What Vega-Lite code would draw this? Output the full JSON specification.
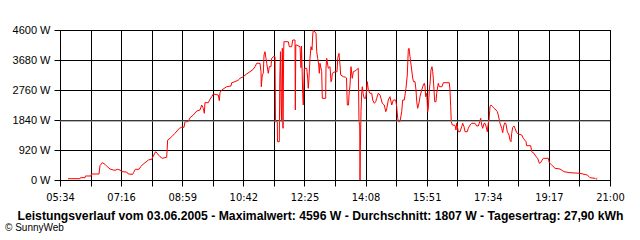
{
  "$schema": "https://vega.github.io/schema/vega-lite/v6.json",
  "width": 550,
  "height": 150,
  "autosize": "none",
  "padding": {"left": 60, "top": 30, "right": 30, "bottom": 60},
  "background": "white",
  "title": {
    "text": "© SunnyWeb",
    "orient": "bottom",
    "anchor": "start",
    "frame": "group",
    "dx": -55,
    "offset": 2,
    "font": "Liberation Sans",
    "fontSize": 10,
    "fontWeight": "normal",
    "color": "black"
  },
  "config": {
    "view": {"stroke": "black", "strokeWidth": 1},
    "axis": {
      "gridColor": "black",
      "gridOpacity": 1,
      "gridWidth": 1,
      "domainColor": "black",
      "tickColor": "black",
      "tickSize": 6,
      "labelColor": "black",
      "labelFont": "Liberation Sans",
      "labelFontSize": 11,
      "labelFlush": false,
      "labelOverlap": false,
      "labelBound": false
    }
  },
  "layer": [
    {
      "data": {
        "values": [
          {"minute": 347.5, "watt": 40}, {"minute": 367.7, "watt": 40}, {"minute": 368.5, "watt": 71}, {"minute": 376.1, "watt": 71},
          {"minute": 376.9, "watt": 123}, {"minute": 386.2, "watt": 123}, {"minute": 387.0, "watt": 184}, {"minute": 399.7, "watt": 184},
          {"minute": 401.3, "watt": 439}, {"minute": 405.2, "watt": 531}, {"minute": 409.8, "watt": 481}, {"minute": 413.6, "watt": 408},
          {"minute": 418.2, "watt": 337}, {"minute": 423.7, "watt": 307}, {"minute": 426.6, "watt": 297}, {"minute": 430.5, "watt": 328},
          {"minute": 435.0, "watt": 307}, {"minute": 438.4, "watt": 255}, {"minute": 446.3, "watt": 245}, {"minute": 449.0, "watt": 184},
          {"minute": 456.4, "watt": 175}, {"minute": 457.7, "watt": 224}, {"minute": 460.8, "watt": 328}, {"minute": 467.0, "watt": 328},
          {"minute": 469.9, "watt": 408}, {"minute": 474.2, "watt": 491}, {"minute": 478.8, "watt": 552}, {"minute": 482.7, "watt": 613},
          {"minute": 488.4, "watt": 635}, {"minute": 491.1, "watt": 736}, {"minute": 495.1, "watt": 868}, {"minute": 497.8, "watt": 819},
          {"minute": 499.8, "watt": 767}, {"minute": 502.4, "watt": 715}, {"minute": 506.2, "watt": 665}, {"minute": 513.6, "watt": 696},
          {"minute": 515.3, "watt": 1227}, {"minute": 519.2, "watt": 1279}, {"minute": 522.1, "watt": 1328}, {"minute": 527.6, "watt": 1432},
          {"minute": 534.9, "watt": 1585}, {"minute": 538.9, "watt": 1616}, {"minute": 542.8, "watt": 1616}, {"minute": 544.5, "watt": 1788},
          {"minute": 550.0, "watt": 1788}, {"minute": 552.9, "watt": 1911}, {"minute": 558.4, "watt": 1993}, {"minute": 564.2, "watt": 2116},
          {"minute": 569.7, "watt": 2147}, {"minute": 572.6, "watt": 2300}, {"minute": 575.3, "watt": 2199}, {"minute": 577.0, "watt": 2045},
          {"minute": 578.1, "watt": 2371}, {"minute": 583.7, "watt": 2371}, {"minute": 586.5, "watt": 2475}, {"minute": 589.4, "watt": 2555},
          {"minute": 592.1, "watt": 2637}, {"minute": 600.5, "watt": 2607}, {"minute": 602.2, "watt": 2432}, {"minute": 603.4, "watt": 2677},
          {"minute": 606.2, "watt": 2760}, {"minute": 614.7, "watt": 2861}, {"minute": 621.9, "watt": 2883}, {"minute": 623.1, "watt": 2984},
          {"minute": 628.6, "watt": 3015}, {"minute": 634.2, "watt": 3067}, {"minute": 637.1, "watt": 3119}, {"minute": 642.6, "watt": 3168},
          {"minute": 648.3, "watt": 3251}, {"minute": 653.9, "watt": 3321}, {"minute": 659.4, "watt": 3395}, {"minute": 662.3, "watt": 3475},
          {"minute": 665.2, "watt": 3579}, {"minute": 670.7, "watt": 3579}, {"minute": 672.4, "watt": 3321}, {"minute": 672.9, "watt": 2861},
          {"minute": 674.6, "watt": 3220}, {"minute": 676.3, "watt": 3272}, {"minute": 677.5, "watt": 3833}, {"minute": 679.1, "watt": 3935},
          {"minute": 680.8, "watt": 3732}, {"minute": 682.0, "watt": 3579}, {"minute": 684.7, "watt": 3272}, {"minute": 686.4, "watt": 3475},
          {"minute": 689.2, "watt": 3475}, {"minute": 690.4, "watt": 3732}, {"minute": 693.1, "watt": 3781}, {"minute": 696.0, "watt": 3781},
          {"minute": 696.8, "watt": 1788}, {"minute": 699.9, "watt": 1788}, {"minute": 700.2, "watt": 1175}, {"minute": 703.2, "watt": 1175},
          {"minute": 704.1, "watt": 3128}, {"minute": 705.2, "watt": 3935}, {"minute": 706.1, "watt": 2453}, {"minute": 706.9, "watt": 1788},
          {"minute": 708.3, "watt": 4039}, {"minute": 709.5, "watt": 1585}, {"minute": 710.6, "watt": 3987}, {"minute": 711.1, "watt": 4241},
          {"minute": 718.4, "watt": 4241}, {"minute": 720.1, "watt": 4088}, {"minute": 724.1, "watt": 4088}, {"minute": 725.8, "watt": 4293},
          {"minute": 729.7, "watt": 4293}, {"minute": 730.2, "watt": 2147}, {"minute": 731.0, "watt": 4140}, {"minute": 732.5, "watt": 4140},
          {"minute": 738.1, "watt": 4088}, {"minute": 739.8, "watt": 3444}, {"minute": 740.6, "watt": 4109}, {"minute": 742.6, "watt": 2659},
          {"minute": 743.6, "watt": 2300}, {"minute": 745.3, "watt": 3425}, {"minute": 749.4, "watt": 3425}, {"minute": 751.0, "watt": 3119},
          {"minute": 752.0, "watt": 2812}, {"minute": 753.2, "watt": 3128}, {"minute": 754.9, "watt": 3732}, {"minute": 756.6, "watt": 4088},
          {"minute": 758.3, "watt": 3987}, {"minute": 759.5, "watt": 4447}, {"minute": 760.5, "watt": 4596}, {"minute": 765.0, "watt": 4499},
          {"minute": 766.2, "watt": 3935}, {"minute": 767.9, "watt": 3732}, {"minute": 769.6, "watt": 3527}, {"minute": 770.6, "watt": 3272},
          {"minute": 771.7, "watt": 3579}, {"minute": 774.6, "watt": 3321}, {"minute": 775.6, "watt": 2505}, {"minute": 781.3, "watt": 2505},
          {"minute": 781.8, "watt": 3425}, {"minute": 783.0, "watt": 3732}, {"minute": 785.7, "watt": 3425}, {"minute": 788.6, "watt": 3475},
          {"minute": 790.3, "watt": 3015}, {"minute": 791.4, "watt": 3067}, {"minute": 792.5, "watt": 3272}, {"minute": 797.0, "watt": 3321},
          {"minute": 800.4, "watt": 3321}, {"minute": 801.5, "watt": 3732}, {"minute": 803.7, "watt": 3885}, {"minute": 805.4, "watt": 3527},
          {"minute": 806.6, "watt": 3220}, {"minute": 811.0, "watt": 3168}, {"minute": 815.0, "watt": 3149}, {"minute": 816.4, "watt": 3128},
          {"minute": 817.7, "watt": 2300}, {"minute": 819.7, "watt": 2300}, {"minute": 820.6, "watt": 2607}, {"minute": 822.3, "watt": 2913},
          {"minute": 823.9, "watt": 3475}, {"minute": 826.1, "watt": 3119}, {"minute": 827.8, "watt": 3321}, {"minute": 830.7, "watt": 3343},
          {"minute": 836.2, "watt": 3425}, {"minute": 837.4, "watt": 1788}, {"minute": 838.6, "watt": 1687}, {"minute": 839.1, "watt": 0},
          {"minute": 839.6, "watt": 868}, {"minute": 840.8, "watt": 2095}, {"minute": 842.0, "watt": 2708}, {"minute": 843.0, "watt": 2861},
          {"minute": 844.7, "watt": 2607}, {"minute": 846.3, "watt": 2505}, {"minute": 848.7, "watt": 2505}, {"minute": 850.4, "watt": 2812},
          {"minute": 851.4, "watt": 3015}, {"minute": 853.1, "watt": 2760}, {"minute": 855.9, "watt": 2659}, {"minute": 858.8, "watt": 2659},
          {"minute": 860.5, "watt": 2453}, {"minute": 863.2, "watt": 2352}, {"minute": 865.5, "watt": 2401}, {"minute": 867.2, "watt": 2505},
          {"minute": 869.9, "watt": 2659}, {"minute": 872.8, "watt": 2607}, {"minute": 874.4, "watt": 2505}, {"minute": 876.6, "watt": 2352},
          {"minute": 880.0, "watt": 2300}, {"minute": 882.4, "watt": 2095}, {"minute": 883.7, "watt": 2147}, {"minute": 886.7, "watt": 2453},
          {"minute": 889.6, "watt": 2555}, {"minute": 892.5, "watt": 2300}, {"minute": 895.2, "watt": 2453}, {"minute": 899.2, "watt": 2453},
          {"minute": 900.9, "watt": 2248}, {"minute": 902.6, "watt": 1892}, {"minute": 903.9, "watt": 1788}, {"minute": 906.4, "watt": 1788},
          {"minute": 909.3, "watt": 2095}, {"minute": 911.0, "watt": 2453}, {"minute": 913.7, "watt": 2453}, {"minute": 914.9, "watt": 2607},
          {"minute": 916.5, "watt": 2812}, {"minute": 918.7, "watt": 3220}, {"minute": 920.4, "watt": 3987}, {"minute": 921.6, "watt": 4039},
          {"minute": 923.3, "watt": 3781}, {"minute": 925.5, "watt": 3465}, {"minute": 927.8, "watt": 3128}, {"minute": 929.2, "watt": 3015},
          {"minute": 931.7, "watt": 3015}, {"minute": 933.4, "watt": 2760}, {"minute": 934.6, "watt": 2401}, {"minute": 936.2, "watt": 2199},
          {"minute": 938.4, "watt": 2361}, {"minute": 940.1, "watt": 2555}, {"minute": 943.0, "watt": 2760}, {"minute": 945.7, "watt": 2913},
          {"minute": 947.4, "watt": 2965}, {"minute": 948.5, "watt": 2883}, {"minute": 949.7, "watt": 2555}, {"minute": 951.4, "watt": 2659},
          {"minute": 953.1, "watt": 2095}, {"minute": 954.1, "watt": 2208}, {"minute": 955.8, "watt": 2760}, {"minute": 957.0, "watt": 2965},
          {"minute": 958.6, "watt": 3373}, {"minute": 960.3, "watt": 3475}, {"minute": 961.5, "watt": 3321}, {"minute": 962.5, "watt": 3119},
          {"minute": 963.7, "watt": 2760}, {"minute": 964.9, "watt": 2401}, {"minute": 967.0, "watt": 2401}, {"minute": 968.2, "watt": 2659},
          {"minute": 970.9, "watt": 2965}, {"minute": 972.6, "watt": 2861}, {"minute": 977.1, "watt": 2861}, {"minute": 979.3, "watt": 2984},
          {"minute": 989.4, "watt": 2984}, {"minute": 990.6, "watt": 2760}, {"minute": 991.8, "watt": 2248}, {"minute": 992.8, "watt": 1788},
          {"minute": 994.5, "watt": 1687}, {"minute": 999.0, "watt": 1677}, {"minute": 1000.7, "watt": 1533}, {"minute": 1001.9, "watt": 1739},
          {"minute": 1004.6, "watt": 1481}, {"minute": 1007.5, "watt": 1481}, {"minute": 1010.3, "watt": 1635}, {"minute": 1012.0, "watt": 1739},
          {"minute": 1014.2, "watt": 1635}, {"minute": 1015.9, "watt": 1481}, {"minute": 1019.7, "watt": 1481}, {"minute": 1021.4, "watt": 1585},
          {"minute": 1024.3, "watt": 1687}, {"minute": 1027.2, "watt": 1739}, {"minute": 1032.7, "watt": 1739}, {"minute": 1035.6, "watt": 1656},
          {"minute": 1038.3, "watt": 1656}, {"minute": 1039.9, "watt": 1739}, {"minute": 1042.3, "watt": 1892}, {"minute": 1044.0, "watt": 1687},
          {"minute": 1045.7, "watt": 1585}, {"minute": 1047.9, "watt": 1739}, {"minute": 1049.5, "watt": 1739}, {"minute": 1051.2, "watt": 1656},
          {"minute": 1053.4, "watt": 1481}, {"minute": 1055.1, "watt": 1739}, {"minute": 1056.3, "watt": 1840}, {"minute": 1058.0, "watt": 2248},
          {"minute": 1059.6, "watt": 2300}, {"minute": 1062.5, "watt": 2248}, {"minute": 1064.7, "watt": 2199}, {"minute": 1068.1, "watt": 2147},
          {"minute": 1070.3, "watt": 2095}, {"minute": 1071.9, "watt": 1993}, {"minute": 1073.6, "watt": 1840}, {"minute": 1074.8, "watt": 1739},
          {"minute": 1077.7, "watt": 1585}, {"minute": 1079.3, "watt": 1451}, {"minute": 1081.5, "watt": 1687}, {"minute": 1083.2, "watt": 1757},
          {"minute": 1084.9, "watt": 1717}, {"minute": 1087.1, "watt": 1481}, {"minute": 1090.0, "watt": 1380}, {"minute": 1091.6, "watt": 1227},
          {"minute": 1093.3, "watt": 1175}, {"minute": 1094.5, "watt": 1432}, {"minute": 1096.2, "watt": 1616}, {"minute": 1098.4, "watt": 1656},
          {"minute": 1100.1, "watt": 1585}, {"minute": 1102.9, "watt": 1451}, {"minute": 1105.6, "watt": 1411}, {"minute": 1111.3, "watt": 1380},
          {"minute": 1114.0, "watt": 1279}, {"minute": 1118.6, "watt": 1175}, {"minute": 1119.7, "watt": 1052}, {"minute": 1126.5, "watt": 1052},
          {"minute": 1128.2, "watt": 868}, {"minute": 1132.0, "watt": 819}, {"minute": 1135.4, "watt": 715}, {"minute": 1138.3, "watt": 665},
          {"minute": 1141.0, "watt": 512}, {"minute": 1143.3, "watt": 531}, {"minute": 1145.0, "watt": 592}, {"minute": 1147.7, "watt": 665},
          {"minute": 1156.1, "watt": 665}, {"minute": 1157.8, "watt": 531}, {"minute": 1161.8, "watt": 460}, {"minute": 1167.4, "watt": 359},
          {"minute": 1175.8, "watt": 337}, {"minute": 1182.6, "watt": 255}, {"minute": 1192.7, "watt": 224}, {"minute": 1209.5, "watt": 205},
          {"minute": 1221.8, "watt": 153}, {"minute": 1226.3, "watt": 71}, {"minute": 1234.7, "watt": 52}, {"minute": 1236.4, "watt": 21},
          {"minute": 1238.6, "watt": 52}
        ]
      },
      "mark": {"type": "line", "color": "#ff0000", "strokeWidth": 1, "interpolate": "linear"},
      "encoding": {
        "x": {
          "field": "minute",
          "type": "quantitative",
          "scale": {"domain": [334, 1260], "nice": false, "zero": false},
          "axis": {
            "values": [334, 385.44, 436.89, 488.33, 539.78, 591.22, 642.67, 694.11, 745.56, 797.0, 848.44, 899.89, 951.33, 1002.78, 1054.22, 1105.67, 1157.11, 1208.56, 1260],
            "labelExpr": "round((datum.value-334)/51.444)%2==0 ? ((floor(datum.value/60)<10?'0':'')+floor(datum.value/60)+':'+(floor(datum.value%60)<10?'0':'')+floor(datum.value%60)) : ''",
            "grid": true,
            "labelFont": "Liberation Sans Narrow, DejaVu Sans Condensed, Liberation Sans",
            "labelFontSize": 11,
            "labelPadding": 5,
            "title": "Leistungsverlauf vom 03.06.2005 - Maximalwert: 4596 W - Durchschnitt: 1807 W - Tagesertrag: 27,90 kWh",
            "titleFont": "Liberation Sans",
            "titleFontWeight": "bold",
            "titleFontSize": 12.2,
            "titleColor": "black",
            "titleX": 260,
            "titleY": 39,
            "titleAlign": "center",
            "titleBaseline": "alphabetic"
          }
        },
        "y": {
          "field": "watt",
          "type": "quantitative",
          "scale": {"domain": [0, 4600], "nice": false, "zero": true},
          "axis": {
            "values": [0, 920, 1840, 2760, 3680, 4600],
            "labelExpr": "datum.value + ' W'",
            "grid": true,
            "labelPadding": 4,
            "title": null
          }
        }
      }
    },
    {
      "data": {"values": [{"average": 1807}]},
      "mark": {"type": "rule", "color": "#808080", "strokeWidth": 1},
      "encoding": {
        "y": {
          "field": "average",
          "type": "quantitative",
          "axis": {
            "values": [0, 920, 1840, 2760, 3680, 4600],
            "labelExpr": "datum.value + ' W'",
            "grid": true,
            "labelPadding": 4,
            "title": null
          }
        }
      }
    }
  ]
}
